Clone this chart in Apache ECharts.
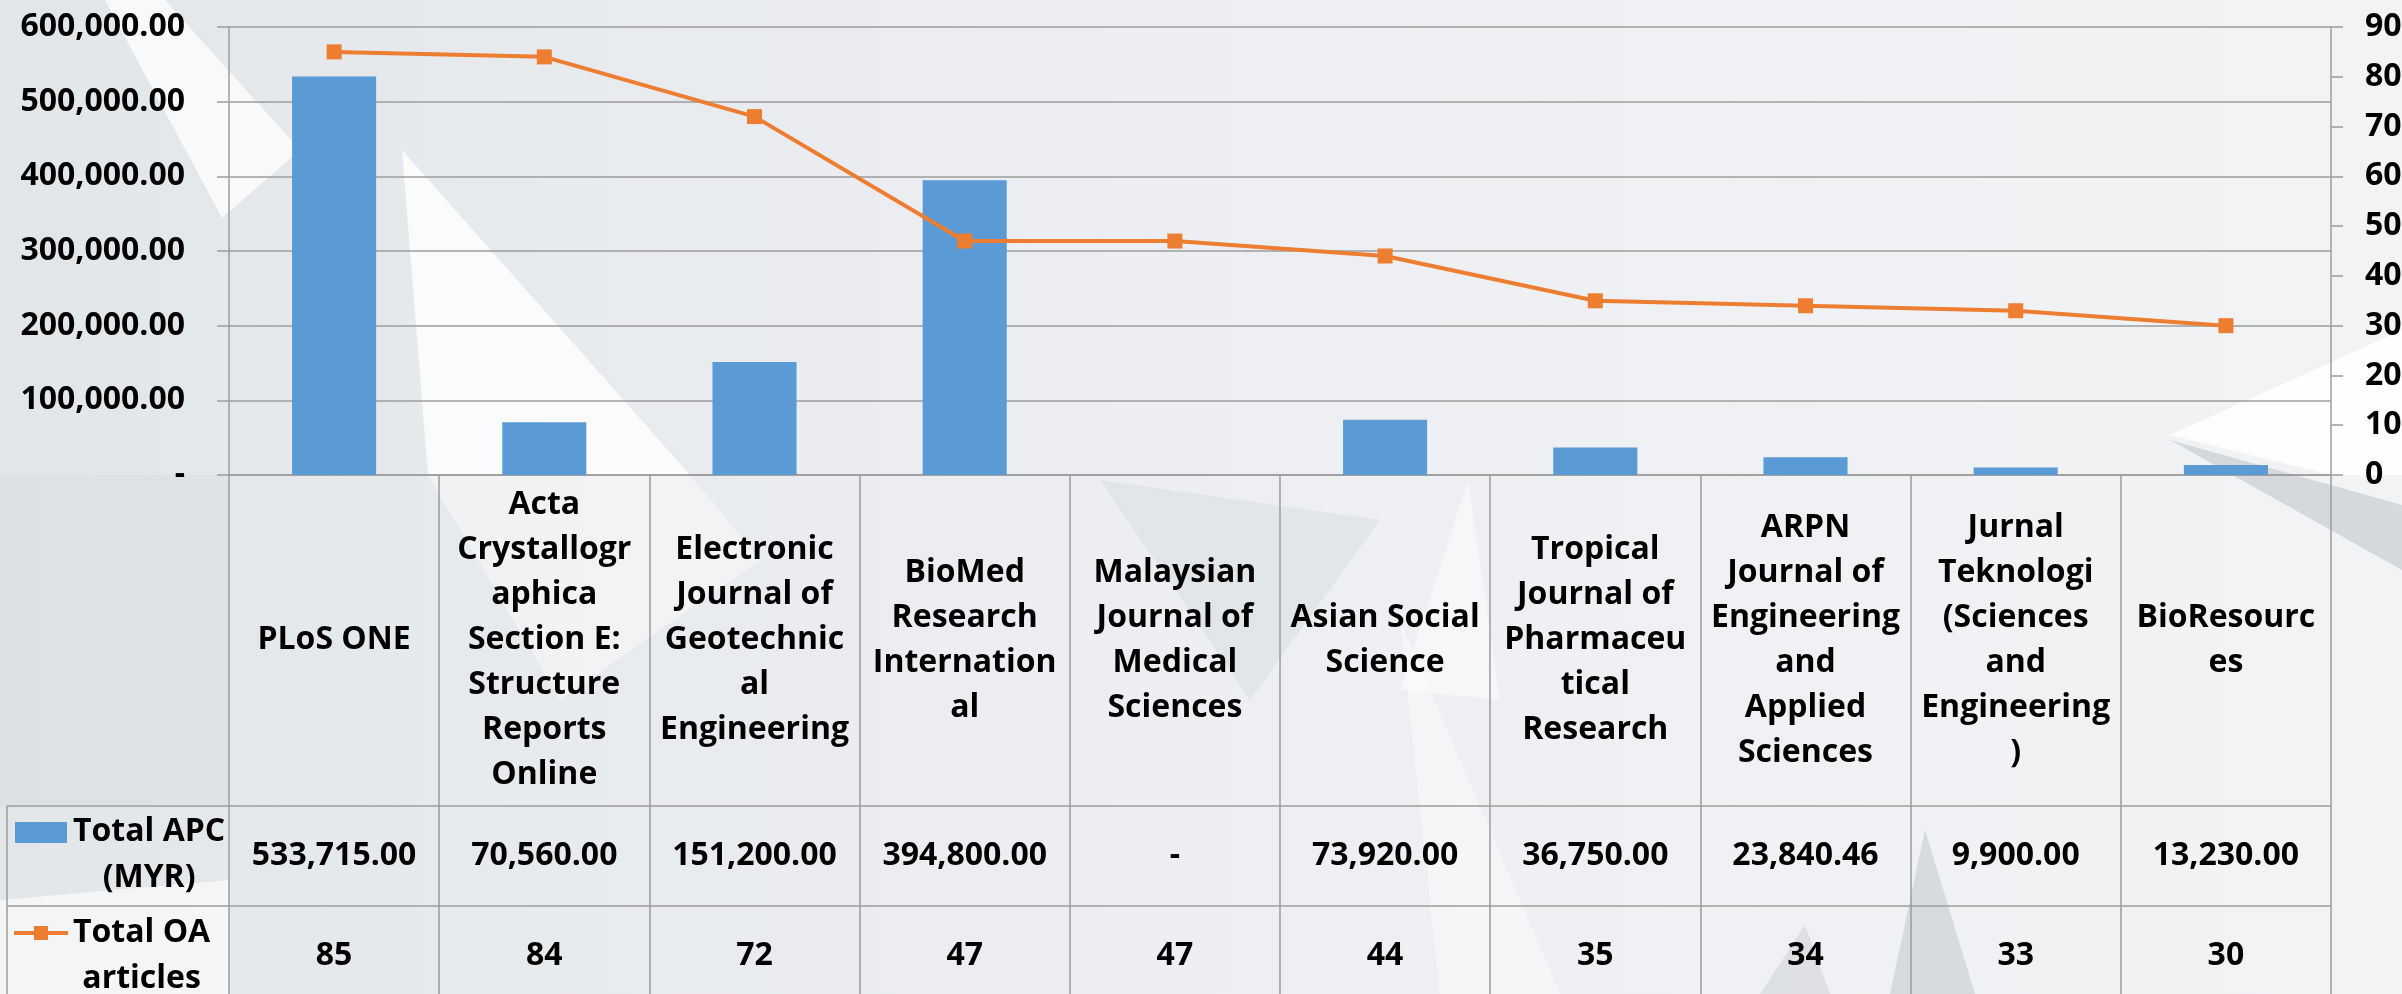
<!DOCTYPE html>
<html><head><meta charset="utf-8">
<script src="https://cdn.jsdelivr.net/npm/echarts@6/dist/echarts.min.js"></script>
<style>html,body{margin:0;padding:0;background:#e9ecef}#c{width:2402px;height:994px}</style>
</head><body><div id="c"></div>
<script>
// ---- data ----
const categories = ['PLoS ONE', 'Acta Crystallographica Section E: Structure Reports Online', 'Electronic Journal of Geotechnical Engineering', 'BioMed Research International', 'Malaysian Journal of Medical Sciences', 'Asian Social Science', 'Tropical Journal of Pharmaceutical Research', 'ARPN Journal of Engineering and Applied Sciences', 'Jurnal Teknologi (Sciences and Engineering)', 'BioResources'];
const categoryLabels = ['PLoS ONE', 'Acta\nCrystallogr\naphica\nSection E:\nStructure\nReports\nOnline', 'Electronic\nJournal of\nGeotechnic\nal\nEngineering', 'BioMed\nResearch\nInternation\nal', 'Malaysian\nJournal of\nMedical\nSciences', 'Asian Social\nScience', 'Tropical\nJournal of\nPharmaceu\ntical\nResearch', 'ARPN\nJournal of\nEngineering\nand\nApplied\nSciences', 'Jurnal\nTeknologi\n(Sciences\nand\nEngineering\n)', 'BioResourc\nes'];
const apcValues = [533715.00, 70560.00, 151200.00, 394800.00, null, 73920.00, 36750.00, 23840.46, 9900.00, 13230.00];
const oaValues = [85, 84, 72, 47, 47, 44, 35, 34, 33, 30];
const apcSeriesName = 'Total APC\n(MYR)';
const oaSeriesName = 'Total OA\narticles';
const leftTickLabels = ['-', '100,000.00', '200,000.00', '300,000.00', '400,000.00', '500,000.00', '600,000.00'];
const rightTickLabels = ['0', '10', '20', '30', '40', '50', '60', '70', '80', '90'];

// ---- helpers ----
const FONT = "'Open Sans', 'Liberation Sans', sans-serif";
const FS = 32;
const fmtApc = v => (v === null || v === undefined) ? '-' : v.toLocaleString('en-US', {minimumFractionDigits: 2, maximumFractionDigits: 2});
const apcLabels = apcValues.map(fmtApc);
const oaLabels = oaValues.map(v => String(v));
const GRID = '#9c9c9c';
const BLUE = '#5B9BD5';
const ORANGE = '#ED7D31';
const lbl = {color: '#000', fontFamily: FONT, fontSize: FS, fontWeight: 'bold'};

const chart = echarts.init(document.getElementById('c'), null, {renderer: 'canvas'});

const plotTop = 27, plotBottomY = 475, plotLeft = 229, plotRight = 2331;
const row1 = 806, row2 = 906, tableBottom = 1010, tableLeft = 7;

function measure(text) {
  const c = document.createElement('canvas').getContext('2d');
  c.font = 'bold ' + FS + 'px ' + FONT;
  return Math.max(...text.split('\n').map(t => c.measureText(t).width));
}

const bg = [
  {type: 'rect', shape: {x: 0, y: 0, width: 2402, height: 994}, style: {fill: new echarts.graphic.LinearGradient(0, 0, 1, 0, [{offset: 0, color: '#e3e6e9'}, {offset: 0.45, color: '#eceef1'}, {offset: 1, color: '#f1f3f5'}])}},
  {type: 'polygon', shape: {points: [[0, 475], [229, 475], [229, 806], [0, 806]]}, style: {fill: 'rgba(205,210,215,0.25)'}},
  {type: 'polygon', shape: {points: [[0, 900], [229, 880], [229, 994], [0, 994]]}, style: {fill: 'rgba(255,255,255,0.6)'}},
  {type: 'polygon', shape: {points: [[105, 0], [165, 0], [300, 150], [222, 218]]}, style: {fill: 'rgba(255,255,255,0.75)'}},
  {type: 'polygon', shape: {points: [[402, 150], [690, 475], [428, 475]]}, style: {fill: 'rgba(255,255,255,0.8)'}},
  {type: 'polygon', shape: {points: [[428, 475], [690, 475], [760, 560], [560, 700]]}, style: {fill: 'rgba(255,255,255,0.4)'}},
  {type: 'polygon', shape: {points: [[2170, 435], [2402, 330], [2402, 475], [2331, 475]]}, style: {fill: 'rgba(255,255,255,0.85)'}},
  {type: 'polygon', shape: {points: [[2170, 440], [2402, 505], [2402, 570]]}, style: {fill: 'rgba(150,155,162,0.3)'}},
  {type: 'polygon', shape: {points: [[1925, 830], [1890, 994], [1975, 994]]}, style: {fill: 'rgba(160,165,172,0.3)'}},
  {type: 'polygon', shape: {points: [[1805, 925], [1760, 994], [1830, 994]]}, style: {fill: 'rgba(170,175,180,0.25)'}},
  {type: 'polygon', shape: {points: [[1468, 480], [1400, 690], [1500, 700]]}, style: {fill: 'rgba(255,255,255,0.45)'}},
  {type: 'polygon', shape: {points: [[1100, 480], [1250, 700], [1380, 520]]}, style: {fill: 'rgba(190,195,200,0.2)'}},
  {type: 'polygon', shape: {points: [[1400, 620], [1440, 994], [1560, 994]]}, style: {fill: 'rgba(255,255,255,0.4)'}}
].map(e => Object.assign(e, {z: -100, silent: true}));

const tableLines = [
  {type: 'line', shape: {x1: tableLeft, y1: row1, x2: plotRight, y2: row1}},
  {type: 'line', shape: {x1: tableLeft, y1: row2, x2: plotRight, y2: row2}},
  {type: 'line', shape: {x1: tableLeft, y1: row1, x2: tableLeft, y2: tableBottom}}
].map(e => Object.assign(e, {style: {stroke: GRID, lineWidth: 1.5}, z: 5, silent: true}));

const keyX = 73;
const legendGraphics = [
  {type: 'rect', shape: {x: 15, y: 822, width: 52, height: 21}, style: {fill: BLUE}, z: 6},
  {type: 'line', shape: {x1: 14, y1: 933, x2: 68, y2: 933}, style: {stroke: ORANGE, lineWidth: 4}, z: 6},
  {type: 'rect', shape: {x: 34, y: 926, width: 14, height: 14}, style: {fill: ORANGE}, z: 7},
  {type: 'text', x: keyX + measure(apcSeriesName) / 2, y: 855, style: {text: apcSeriesName, align: 'center', verticalAlign: 'middle', lineHeight: 46, fill: '#000', font: 'bold ' + FS + 'px ' + FONT}, z: 6},
  {type: 'text', x: keyX + measure(oaSeriesName) / 2, y: 956, style: {text: oaSeriesName, align: 'center', verticalAlign: 'middle', lineHeight: 46, fill: '#000', font: 'bold ' + FS + 'px ' + FONT}, z: 6}
];

const baseX = {type: 'category', data: categories, gridIndex: 0, position: 'bottom', boundaryGap: true};

const option = {
  animation: false,
  backgroundColor: 'transparent',
  grid: {left: plotLeft, right: 2402 - plotRight, top: plotTop, bottom: 994 - plotBottomY, containLabel: false, outerBoundsMode: 'none'},
  xAxis: [
    Object.assign({}, baseX, {
      axisLine: {show: true, onZero: false, lineStyle: {color: GRID, width: 1.5}},
      axisTick: {show: true, length: tableBottom - plotBottomY, interval: 0, lineStyle: {color: GRID, width: 1.5}},
      axisLabel: Object.assign({}, lbl, {interval: 0, margin: 165, verticalAlign: 'middle', align: 'center', lineHeight: 45, formatter: (v, i) => categoryLabels[i]}),
      splitLine: {show: false}
    }),
    Object.assign({}, baseX, {
      axisLine: {show: false}, axisTick: {show: false}, splitLine: {show: false},
      axisLabel: Object.assign({}, lbl, {interval: 0, margin: 381, verticalAlign: 'middle', align: 'center', formatter: (v, i) => apcLabels[i]})
    }),
    Object.assign({}, baseX, {
      axisLine: {show: false}, axisTick: {show: false}, splitLine: {show: false},
      axisLabel: Object.assign({}, lbl, {interval: 0, margin: 481, verticalAlign: 'middle', align: 'center', formatter: (v, i) => oaLabels[i]})
    })
  ],
  yAxis: [
    {type: 'value', min: 0, max: 600000, interval: 100000, position: 'left',
      axisLine: {show: true, lineStyle: {color: GRID, width: 1.5}},
      axisTick: {show: true, length: 12, lineStyle: {color: GRID, width: 1.5}},
      splitLine: {show: true, lineStyle: {color: GRID, width: 1.5}},
      axisLabel: Object.assign({}, lbl, {margin: 44, formatter: v => leftTickLabels[Math.round(v / 100000)]})},
    {type: 'value', min: 0, max: 90, interval: 10, position: 'right',
      axisLine: {show: true, lineStyle: {color: GRID, width: 1.5}},
      axisTick: {show: true, length: 12, lineStyle: {color: GRID, width: 1.5}},
      splitLine: {show: false},
      axisLabel: Object.assign({}, lbl, {margin: 34, formatter: v => rightTickLabels[Math.round(v / 10)]})}
  ],
  series: [
    {name: apcSeriesName, type: 'bar', xAxisIndex: 0, yAxisIndex: 0, data: apcValues, barWidth: '40%', itemStyle: {color: BLUE}, z: 2},
    {name: oaSeriesName, type: 'line', xAxisIndex: 0, yAxisIndex: 1, data: oaValues, symbol: 'rect', symbolSize: 15, showSymbol: true,
      lineStyle: {color: ORANGE, width: 4}, itemStyle: {color: ORANGE}, z: 3}
  ],
  graphic: {elements: bg.concat(tableLines, legendGraphics)}
};
chart.setOption(option);
</script>
</body></html>
